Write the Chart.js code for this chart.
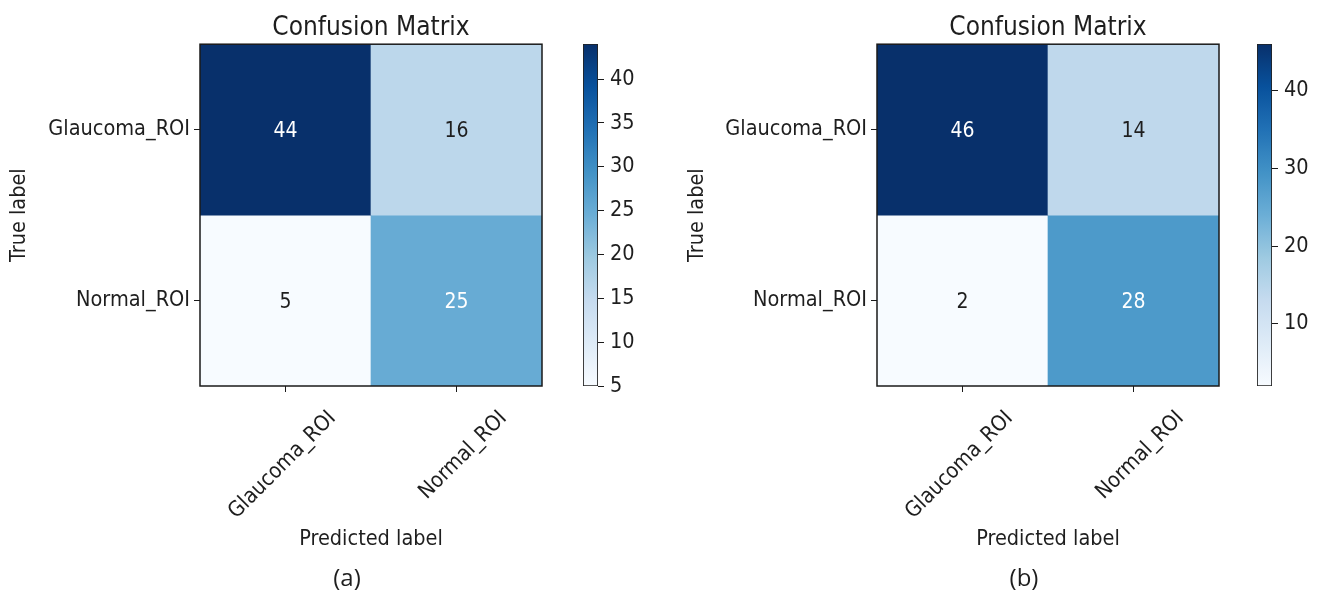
<!DOCTYPE html>
<html>
<head>
<meta charset="utf-8">
<script src="https://cdn.jsdelivr.net/npm/chart.js@4.4.1/dist/chart.umd.min.js"></script>
<style>
  html, body { margin: 0; padding: 0; background: #fff; width: 1321px; height: 593px; overflow: hidden; position: relative; }
  canvas { position: absolute; top: 0; }
</style>
</head>
<body>
<canvas id="cmA" width="560" height="593" style="left:0px"></canvas>
<canvas id="cbA" width="100" height="593" style="left:560px"></canvas>
<canvas id="cmB" width="577" height="593" style="left:660px"></canvas>
<canvas id="cbB" width="100" height="593" style="left:1234px"></canvas>
<script>
// Class names (rows = true label, columns = predicted label)
const classLabels = ['Glaucoma_ROI', 'Normal_ROI'];

// Confusion-matrix counts for the two models
const countsA = [[44, 16], [5, 25]];
const countsB = [[46, 14], [2, 28]];

// Colorbar tick values
const colorbarTicksA = [5, 10, 15, 20, 25, 30, 35, 40];
const colorbarTicksB = [10, 20, 30, 40];

// Panel captions
const panelLabels = ['(a)', '(b)'];

const FONT = "'DejaVu Sans Condensed', 'DejaVu Sans', sans-serif";
const TEXT = '#1e1e1e';

// "Blues" sequential colormap anchors
const BLUES = ['#f7fbff', '#deebf7', '#c6dbef', '#9ecae1', '#6baed6', '#4292c6', '#2171b5', '#08519c', '#08306b']
  .map(h => [parseInt(h.slice(1, 3), 16), parseInt(h.slice(3, 5), 16), parseInt(h.slice(5, 7), 16)]);

function blues(t) {
  t = Math.max(0, Math.min(1, t));
  const p = t * (BLUES.length - 1);
  const i = Math.min(Math.floor(p), BLUES.length - 2);
  const f = p - i;
  const a = BLUES[i], b = BLUES[i + 1];
  const c = a.map((v, k) => Math.round(v + (b[k] - v) * f));
  return `rgb(${c[0]},${c[1]},${c[2]})`;
}

function rangeOf(m) {
  const flat = m.flat();
  return { min: Math.min(...flat), max: Math.max(...flat) };
}

// Writes each cell's count in its centre, light on dark cells
const cellTextPlugin = {
  id: 'cellText',
  afterDatasetsDraw(chart, args, opts) {
    const { ctx } = chart;
    ctx.save();
    ctx.font = `${opts.size}px ${FONT}`;
    ctx.textAlign = 'center';
    ctx.textBaseline = 'middle';
    chart.data.datasets.forEach((ds, di) => {
      chart.getDatasetMeta(di).data.forEach((el, i) => {
        const raw = ds.data[i];
        const { x, y, base } = el.getProps(['x', 'y', 'base'], true);
        ctx.fillStyle = raw.v > opts.threshold ? '#ffffff' : TEXT;
        ctx.fillText(String(raw.v), x, (y + base) / 2 + opts.dy);
      });
    });
    ctx.restore();
  }
};

// Frame around the plotting area
const framePlugin = {
  id: 'frame',
  afterDatasetsDraw(chart) {
    const { ctx, chartArea: a } = chart;
    ctx.save();
    ctx.strokeStyle = '#1a1a1a';
    ctx.lineWidth = 1.5;
    ctx.strokeRect(a.left, a.top, a.right - a.left, a.bottom - a.top);
    ctx.restore();
  }
};

// Sub-figure caption under the axis title
const captionPlugin = {
  id: 'caption',
  afterDraw(chart, args, opts) {
    const { ctx, chartArea: a } = chart;
    ctx.save();
    ctx.font = `24px 'Open Sans', sans-serif`;
    ctx.fillStyle = TEXT;
    ctx.textAlign = 'center';
    ctx.textBaseline = 'middle';
    ctx.fillText(opts.text, (a.left + a.right) / 2 + opts.shift, opts.y);
    ctx.restore();
  }
};

function matrixChart(id, counts, captionText, yWidth, padLeft) {
  const r = rangeOf(counts);
  const datasets = counts.map((row, ri) => ({
    label: classLabels[ri],
    data: row.map((v, ci) => ({ x: classLabels[ci], y: [ri, ri + 1], v })),
    backgroundColor: ctx => blues((ctx.raw.v - r.min) / (r.max - r.min)),
    borderWidth: 0,
    grouped: false,
    barPercentage: 1,
    categoryPercentage: 1
  }));
  return new Chart(document.getElementById(id), {
    type: 'bar',
    data: { labels: classLabels, datasets },
    plugins: [cellTextPlugin, framePlugin, captionPlugin],
    options: {
      responsive: false,
      animation: false,
      devicePixelRatio: 1,
      layout: { autoPadding: false, padding: { left: padLeft, right: 18, top: 0, bottom: 0 } },
      plugins: {
        legend: { display: false },
        tooltip: { enabled: false },
        title: {
          display: true, text: 'Confusion Matrix', fullSize: false, color: TEXT,
          font: { family: FONT, size: 26, weight: 'normal' },
          padding: { top: 13, bottom: 0 }
        },
        cellText: { size: 21, threshold: r.max / 2, dy: 2 },
        caption: { text: captionText, shift: -24, y: 579 }
      },
      scales: {
        x: {
          type: 'category',
          offset: true,
          afterFit: s => { s.height = 207; },
          grid: { offset: false, drawOnChartArea: false, drawTicks: true, tickLength: 6, color: '#1a1a1a' },
          border: { display: false },
          ticks: {
            autoSkip: false, minRotation: 45, maxRotation: 45,
            labelOffset: 47, padding: 14, color: TEXT,
            font: { family: FONT, size: 21.5 }
          },
          title: {
            display: true, text: 'Predicted label', color: TEXT,
            font: { family: FONT, size: 21.5 }, padding: { top: 0, bottom: 41 }
          }
        },
        y: {
          type: 'linear',
          min: 0, max: classLabels.length, reverse: true,
          afterBuildTicks: s => { s.ticks = classLabels.map((_, i) => ({ value: i + 0.5 })); },
          afterFit: s => { s.width = yWidth; },
          grid: { drawOnChartArea: false, drawTicks: true, tickLength: 6, color: '#1a1a1a' },
          border: { display: false },
          ticks: {
            padding: 4, color: TEXT,
            font: { family: FONT, size: 21.5 },
            callback: v => classLabels[Math.floor(v)]
          },
          title: {
            display: true, text: 'True label', color: TEXT,
            font: { family: FONT, size: 21.5 }, padding: { top: 7, bottom: 0 }
          }
        }
      }
    }
  });
}

function colorbarChart(id, counts, tickValues) {
  const r = rangeOf(counts);
  return new Chart(document.getElementById(id), {
    type: 'bar',
    data: {
      labels: [''],
      datasets: [{
        data: [[r.min, r.max]],
        backgroundColor: ctx => {
          const a = ctx.chart.chartArea;
          if (!a) return '#9ecae1';
          const g = ctx.chart.ctx.createLinearGradient(0, a.bottom, 0, a.top);
          for (let k = 0; k <= 32; k++) g.addColorStop(k / 32, blues(k / 32));
          return g;
        },
        borderColor: '#222',
        borderWidth: 1.2,
        borderSkipped: false,
        barPercentage: 1,
        categoryPercentage: 1
      }]
    },
    options: {
      responsive: false,
      animation: false,
      devicePixelRatio: 1,
      layout: { autoPadding: false, padding: { left: 23, right: 0, top: 44, bottom: 207 } },
      plugins: { legend: { display: false }, tooltip: { enabled: false } },
      scales: {
        x: { display: false },
        y: {
          position: 'right',
          min: r.min, max: r.max,
          afterBuildTicks: s => { s.ticks = tickValues.map(v => ({ value: v })); },
          afterFit: s => { s.width = 62; },
          grid: { drawOnChartArea: false, drawTicks: true, tickLength: 6, color: '#1a1a1a' },
          border: { display: false },
          ticks: { padding: 6, color: TEXT, font: { family: FONT, size: 21.5 } }
        }
      }
    }
  });
}

matrixChart('cmA', countsA, panelLabels[0], 200, 0);
colorbarChart('cbA', countsA, colorbarTicksA);
matrixChart('cmB', countsB, panelLabels[1], 199, 18);
colorbarChart('cbB', countsB, colorbarTicksB);
</script>
</body>
</html>
